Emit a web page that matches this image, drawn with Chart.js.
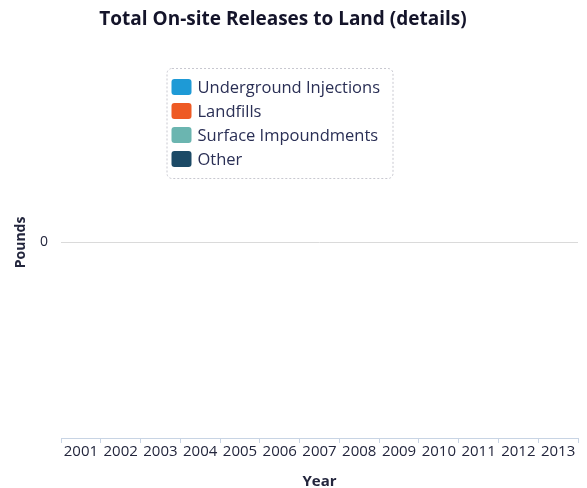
<!DOCTYPE html>
<html>
<head>
<meta charset="utf-8">
<title>Total On-site Releases to Land (details)</title>
<script src="https://cdn.jsdelivr.net/npm/chart.js@4.4.1/dist/chart.umd.min.js"></script>
<style>
    html, body { margin: 0; padding: 0; background: #ffffff; }
    #wrap { position: relative; width: 587px; height: 488px; }
</style>
</head>
<body>
<div id="wrap"><canvas id="landChart"></canvas></div>
<script>
// Chart data
const years = ['2001', '2002', '2003', '2004', '2005', '2006', '2007', '2008', '2009', '2010', '2011', '2012', '2013'];
const undergroundInjections = [0, 0, 0, 0, 0, 0, 0, 0, 0, 0, 0, 0, 0];
const landfills = [0, 0, 0, 0, 0, 0, 0, 0, 0, 0, 0, 0, 0];
const surfaceImpoundments = [0, 0, 0, 0, 0, 0, 0, 0, 0, 0, 0, 0, 0];
const other = [0, 0, 0, 0, 0, 0, 0, 0, 0, 0, 0, 0, 0];
const yTicks = [0];

const FONT = '"Open Sans", "DejaVu Sans", sans-serif';
const TEXT_COLOR = '#23263d';

/**
 * Floating legend box drawn over the plot area
 */
const floatingLegend = {
    id: 'floatingLegend',
    afterDraw(chart) {
        const ctx = chart.ctx;
        const boxW = 226;
        const boxH = 110;
        const left = chart.width / 2 - 127;
        const top = 68;

        ctx.save();
        // Box border
        ctx.setLineDash([2, 2]);
        ctx.strokeStyle = '#c8c8d0';
        ctx.lineWidth = 1;
        ctx.beginPath();
        ctx.roundRect(left + 0.5, top + 0.5, boxW, boxH, 5);
        ctx.stroke();
        ctx.setLineDash([]);

        // Items
        ctx.font = '16.5px ' + FONT;
        ctx.textBaseline = 'middle';
        chart.data.datasets.forEach((ds, i) => {
            const y = top + 19 + i * 24;
            ctx.fillStyle = ds.backgroundColor;
            ctx.beginPath();
            ctx.roundRect(left + 5, y - 8, 20, 16, 3);
            ctx.fill();
            ctx.fillStyle = '#2a2f55';
            ctx.fillText(ds.label, left + 31, y + 1);
        });
        ctx.restore();
    }
};

/**
 * Create stacked bar chart
 */
function createLandChart() {
    const chartCanvas = document.getElementById('landChart');

    new Chart(chartCanvas, {
        type: 'bar',
        data: {
            labels: years,
            datasets: [
                { label: 'Underground Injections', data: undergroundInjections, backgroundColor: '#1e9ad6' },
                { label: 'Landfills', data: landfills, backgroundColor: '#ee5a24' },
                { label: 'Surface Impoundments', data: surfaceImpoundments, backgroundColor: '#6bb5b0' },
                { label: 'Other', data: other, backgroundColor: '#1c4a66' }
            ]
        },
        options: {
            responsive: false,
            animation: false,
            // negative left padding pulls the centred title towards the left like the original
            layout: { padding: { left: -12, right: 9, top: 0, bottom: -3 } },
            plugins: {
                legend: { display: false },
                tooltip: { enabled: false },
                title: {
                    display: true,
                    text: 'Total On-site Releases to Land (details)',
                    color: '#14142a',
                    font: { family: FONT, size: 19, weight: 'bold' },
                    padding: { top: 8, bottom: 16 }
                }
            },
            scales: {
                x: {
                    stacked: true,
                    offset: true,
                    grid: {
                        display: true,
                        drawOnChartArea: false,
                        offset: true,
                        tickLength: 5,
                        color: '#c8d4e4'
                    },
                    border: { display: true, color: '#c8d4e4' },
                    ticks: {
                        color: TEXT_COLOR,
                        font: { family: FONT, size: 15 },
                        padding: 0,
                        maxRotation: 0,
                        autoSkip: false
                    },
                    title: {
                        display: true,
                        text: 'Year',
                        color: TEXT_COLOR,
                        font: { family: FONT, size: 15, weight: 'bold' },
                        padding: { top: 12, bottom: 0 }
                    }
                },
                y: {
                    stacked: true,
                    min: -1,
                    max: 1,
                    afterBuildTicks: (axis) => {
                        axis.ticks = yTicks.map(v => ({ value: v }));
                    },
                    // fixed axis width so the plot starts where the original does
                    afterFit: (axis) => {
                        axis.width = 73;
                    },
                    grid: {
                        color: '#dadada',
                        drawTicks: false
                    },
                    border: { display: false },
                    ticks: {
                        color: TEXT_COLOR,
                        font: { family: FONT, size: 14 },
                        padding: 13
                    },
                    title: {
                        display: true,
                        text: 'Pounds',
                        color: TEXT_COLOR,
                        font: { family: FONT, size: 14, weight: 'bold' },
                        padding: { top: 25, bottom: 0 }
                    }
                }
            }
        },
        plugins: [floatingLegend]
    });
}

document.getElementById('landChart').width = 587;
document.getElementById('landChart').height = 488;
createLandChart();
</script>
</body>
</html>
